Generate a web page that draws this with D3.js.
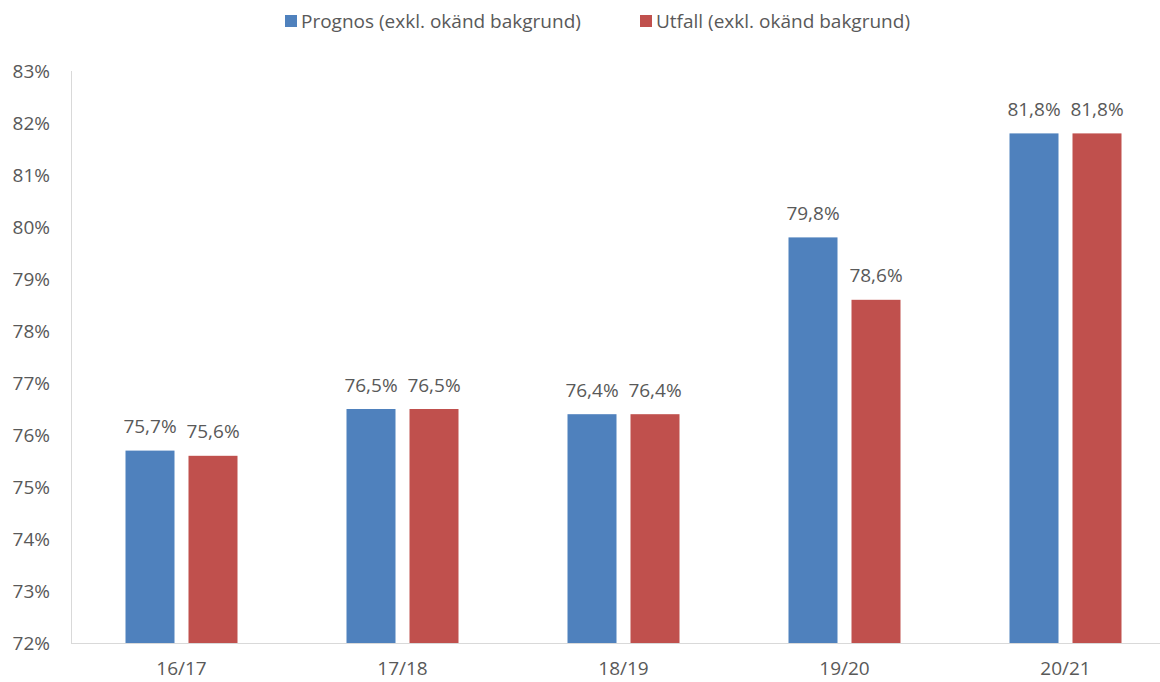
<!DOCTYPE html>
<html>
<head>
<meta charset="utf-8">
<script src="https://cdn.jsdelivr.net/npm/d3@7"></script>
<style>
  body { margin: 0; background: #fff; }
  text { font-family: "Open Sans", "Liberation Sans", sans-serif; fill: #595959; }
</style>
</head>
<body>
<svg id="chart" width="1160" height="682"></svg>
<script>
var categories = ["16/17", "17/18", "18/19", "19/20", "20/21"];
var prognos = [75.7, 76.5, 76.4, 79.8, 81.8];
var utfall = [75.6, 76.5, 76.4, 78.6, 81.8];
var seriesNames = ["Prognos (exkl. okänd bakgrund)", "Utfall (exkl. okänd bakgrund)"];
var colors = ["#4F81BD", "#C0504D"];
var yTicks = d3.range(72, 84, 1);

var svg = d3.select("#chart");
// note: "top" is reserved on window, so use plot* names
var plotLeft = 71, plotRight = 1176, plotTop = 71, plotBottom = 643;
var fs = "19px";

var x = d3.scaleBand().domain(categories).range([plotLeft, plotRight]);
var y = d3.scaleLinear().domain([72, 83]).range([plotBottom, plotTop]);

var fmt = function(v) { return v.toFixed(1).replace(".", ",") + "%"; };

// axes lines
svg.append("line")
  .attr("x1", plotLeft + 0.5).attr("x2", plotLeft + 0.5)
  .attr("y1", plotTop).attr("y2", plotBottom)
  .attr("stroke", "#d9d9d9");
svg.append("line")
  .attr("x1", plotLeft).attr("x2", plotRight)
  .attr("y1", plotBottom + 0.5).attr("y2", plotBottom + 0.5)
  .attr("stroke", "#d9d9d9");

// y tick labels
svg.append("g").selectAll("text")
  .data(yTicks)
  .join("text")
  .attr("x", 50)
  .attr("y", function(d) { return y(d); })
  .attr("dy", "0.35em")
  .attr("text-anchor", "end")
  .style("font-size", fs)
  .text(function(d) { return d + "%"; });

// x labels
svg.append("g").selectAll("text")
  .data(categories)
  .join("text")
  .attr("x", function(d) { return x(d) + x.bandwidth() / 2; })
  .attr("y", 668)
  .attr("dy", "0.35em")
  .attr("text-anchor", "middle")
  .style("font-size", fs)
  .text(function(d) { return d; });

var barW = 49, gap = 14;
var series = [prognos, utfall];
series.forEach(function(vals, s) {
  var off = s === 0 ? -(gap / 2 + barW) : gap / 2;
  var g = svg.append("g");
  g.selectAll("rect")
    .data(vals)
    .join("rect")
    .attr("x", function(d, i) { return x(categories[i]) + x.bandwidth() / 2 + off; })
    .attr("y", function(d) { return y(d); })
    .attr("width", barW)
    .attr("height", function(d) { return plotBottom - y(d); })
    .attr("fill", colors[s]);
  g.selectAll("text")
    .data(vals)
    .join("text")
    .attr("x", function(d, i) { return x(categories[i]) + x.bandwidth() / 2 + off + barW / 2; })
    .attr("y", function(d) { return y(d) - 24; })
    .attr("dy", "0.35em")
    .attr("text-anchor", "middle")
    .style("font-size", fs)
    .text(fmt);
});

// legend
var legendX = [285, 640];
var legend = svg.append("g").selectAll("g")
  .data(seriesNames)
  .join("g")
  .attr("transform", function(d, i) { return "translate(" + legendX[i] + ",21)"; });
legend.append("rect")
  .attr("x", 0).attr("y", -6)
  .attr("width", 12).attr("height", 12)
  .attr("fill", function(d, i) { return colors[i]; });
legend.append("text")
  .attr("x", 16)
  .attr("dy", "0.35em")
  .style("font-size", fs)
  .text(function(d) { return d; });
</script>
</body>
</html>
